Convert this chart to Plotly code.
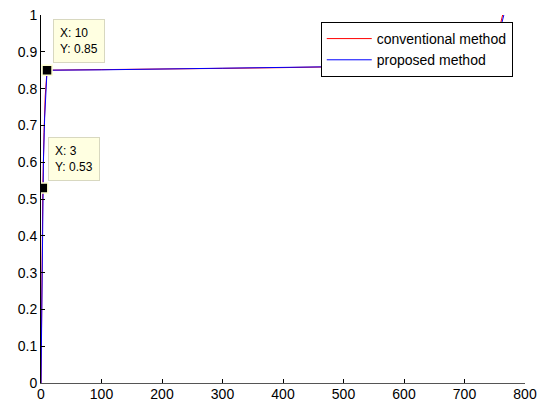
import plotly.graph_objects as go

conv_x = [0, 1, 2, 3, 5, 7, 10, 100, 200, 300, 400, 500, 600, 700, 744, 763]
conv_y = [0, 0.3, 0.45, 0.53, 0.68, 0.78, 0.85, 0.851, 0.853, 0.855, 0.857, 0.859, 0.862, 0.865, 0.87, 1.0]

prop_x = [0, 1, 2, 3, 4, 6, 8, 10, 100, 200, 300, 400, 500, 600, 700, 745, 765]
prop_y = [0, 0.2, 0.38, 0.5, 0.6, 0.72, 0.8, 0.85, 0.851, 0.853, 0.855, 0.857, 0.859, 0.862, 0.865, 0.87, 1.0]

tip_x = [3, 10]
tip_y = [0.53, 0.85]

x_ticks = [0, 100, 200, 300, 400, 500, 600, 700, 800]
y_ticks = [0, 0.1, 0.2, 0.3, 0.4, 0.5, 0.6, 0.7, 0.8, 0.9, 1]
y_ticklabels = ["0", "0.1", "0.2", "0.3", "0.4", "0.5", "0.6", "0.7", "0.8", "0.9", "1"]

fig = go.Figure()
fig.add_trace(go.Scatter(x=conv_x, y=conv_y, mode="lines", name="conventional method",
                         line=dict(color="#ff0000", width=1)))
fig.add_trace(go.Scatter(x=prop_x, y=prop_y, mode="lines", name="proposed method",
                         line=dict(color="#0000ff", width=1)))
fig.add_trace(go.Scatter(x=tip_x, y=tip_y, mode="markers", showlegend=False,
                         marker=dict(symbol="square", size=10, color="black",
                                     line=dict(color="#ffffd0", width=1.5))))

for tx, ty, xs, ys in zip(tip_x, tip_y, [5, 6], [7, 7]):
    fig.add_annotation(x=tx, y=ty, xref="x", yref="y", showarrow=False,
                       text=f"X: {tx}<br>Y: {ty}", align="left",
                       xanchor="left", yanchor="bottom", xshift=xs, yshift=ys,
                       bgcolor="#ffffe1", bordercolor="#d8d8c0", borderwidth=1, borderpad=6,
                       font=dict(family="Liberation Sans, Arial", size=12, color="black"))

fig.update_layout(
    width=547, height=401,
    margin=dict(l=41, r=22, t=15, b=18, autoexpand=False),
    plot_bgcolor="white", paper_bgcolor="white",
    font=dict(family="Liberation Sans, Arial", size=14, color="black"),
    legend=dict(x=0.578, y=0.981, xanchor="left", yanchor="top",
                bgcolor="white", bordercolor="black", borderwidth=1,
                font=dict(size=14), itemwidth=45, tracegroupgap=0),
    showlegend=True,
)
fig.update_xaxes(range=[0, 800], tickvals=x_ticks, ticks="inside", ticklen=4,
                 showline=True, linecolor="#555555", linewidth=1, showgrid=False,
                 zeroline=False, tickcolor="black", mirror=False, automargin=False,
                 ticklabelstandoff=-2)
fig.update_yaxes(range=[0, 1], tickvals=y_ticks, ticktext=y_ticklabels, ticks="inside", ticklen=4,
                 showline=True, linecolor="black", linewidth=1, showgrid=False,
                 zeroline=False, tickcolor="black", mirror=False, automargin=False)

fig.write_html("out.html", post_script="document.body.style.margin='0';",
               config={"displayModeBar": False})
